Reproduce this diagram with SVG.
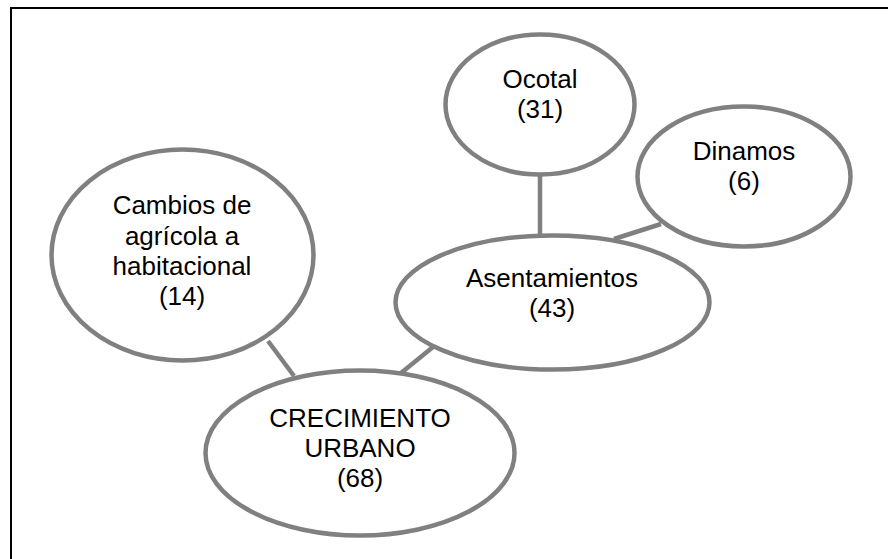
<svg xmlns="http://www.w3.org/2000/svg" width="888" height="559" viewBox="0 0 888 559">
<style>
.node ellipse{fill:#fff;stroke:#808080;stroke-width:4.5}
.conn line{stroke:#808080;stroke-width:4.5}
text{font-family:"Liberation Sans",Arial,sans-serif;font-size:26px;fill:#000;text-anchor:middle}
</style>
<rect x="0" y="0" width="888" height="559" fill="#fff"/>
<path d="M11,560 V8 H889" fill="none" stroke="#000" stroke-width="2"/>
<g class="conn" id="connectors">
<line x1="540" y1="175" x2="540" y2="235"/>
<line x1="661" y1="224" x2="614" y2="239"/>
<line x1="268" y1="341" x2="294" y2="376"/>
<line x1="433" y1="347" x2="401" y2="373"/>
</g>
<g class="node" id="ocotal">
<ellipse cx="540" cy="104.5" rx="94.5" ry="70"/>
<text x="540" y="88">Ocotal</text>
<text x="540" y="118">(31)</text>
</g>
<g class="node" id="dinamos">
<ellipse cx="744" cy="176.5" rx="106.5" ry="70"/>
<text x="744" y="160">Dinamos</text>
<text x="744" y="190">(6)</text>
</g>
<g class="node" id="asentamientos">
<ellipse cx="552.5" cy="302.5" rx="157" ry="67"/>
<text x="552" y="287">Asentamientos</text>
<text x="552" y="317">(43)</text>
</g>
<g class="node" id="cambios">
<ellipse cx="182.5" cy="255" rx="131" ry="105.5"/>
<text x="182" y="214">Cambios de</text>
<text x="182" y="245">agrícola a</text>
<text x="182" y="275">habitacional</text>
<text x="182" y="305">(14)</text>
</g>
<g class="node" id="crecimiento">
<ellipse cx="360" cy="453" rx="154.5" ry="82.5"/>
<text x="360" y="427">CRECIMIENTO</text>
<text x="360" y="457">URBANO</text>
<text x="360" y="487">(68)</text>
</g>
</svg>
